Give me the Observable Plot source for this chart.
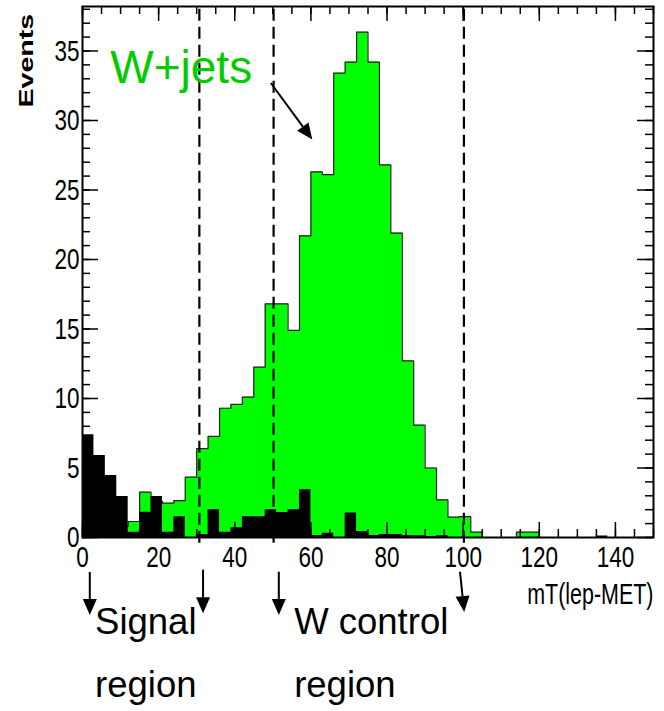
<!DOCTYPE html>
<html><head><meta charset="utf-8">
<script src="https://cdn.jsdelivr.net/npm/d3@7"></script>
<script src="https://cdn.jsdelivr.net/npm/@observablehq/plot@0.6"></script>
<style>body{margin:0;background:#fff}</style>
</head><body><div id="chart"></div>
<script>
// histogram bin edges (mT, GeV), 3 GeV bins
const binEdges = [0,3,6,9,12,15,18,21,24,27,30,33,36,39,42,45,48,51,54,57,60,63,66,69,72,75,78,81,84,87,90,93,96,99,102,105,108,111,114,117,120,123,126,129,132,135,138,141,144,147,150];
// W+jets (green)
const wjets = [0.5,0.6,0.4,0.8,1.15,3.26,2.6,2.47,2.66,4.34,6.4,7.27,9.3,9.57,10.1,12.25,16.8,16.8,14.9,21.7,26.3,26.1,33.4,34.2,36.35,34.2,26.8,21.9,12.7,8.08,5.0,2.7,1.46,1.5,0.38,0,0,0,0.38,0.38,0,0,0,0,0,0,0,0,0,0];
// other sample (black)
const other = [7.4,5.9,4.46,2.95,0.38,1.82,2.95,0.38,1.5,0,0.22,2.0,0.38,0.7,1.5,1.5,2.0,1.8,2.0,3.43,0.14,0.3,0,1.77,0.43,0.14,0.22,0.22,0.12,0.12,0.07,0.12,0,0,0,0,0,0,0,0,0,0,0,0,0,0.1,0,0,0,0];

const xLabelTicks = [0,20,40,60,80,100,120,140];
const xMinorTicks = [0,5,10,15,20,25,30,35,40,45,50,55,60,65,70,75,80,85,90,95,100,105,110,115,120,125,130,135,140,145,150];
const yMajorTicks = [0,5,10,15,20,25,30,35];
const yMinorTicks = [0,1,2,3,4,5,6,7,8,9,10,11,12,13,14,15,16,17,18,19,20,21,22,23,24,25,26,27,28,29,30,31,32,33,34,35,36,37,38];

const cutLines = [30.7, 50.2, 100.2];
const cutTop = 38.0, cutBottom = -0.65;

const xTitle = "mT(lep-MET)";
const yTitle = "Events";
const sampleLabel = "W+jets";
const sampleLabelPos = {x: 7.3, y: 32.7};

const regionText = ["Signal", "region", "W control", "region"];
const regionX = [3.3, 3.3, 55.6, 55.6];
const regionY = [-6.93, -11.5, -6.93, -11.5];

const arrows = [
  {x1: 49.6, y1: 32.66, x2: 60.5, y2: 28.6},
  {x1: 2.05, y1: -2.52, x2: 2.05, y2: -5.61},
  {x1: 31.8, y1: -2.35, x2: 31.8, y2: -5.49},
  {x1: 51.7, y1: -2.5, x2: 51.7, y2: -5.61},
  {x1: 99.3, y1: -2.5, x2: 100.4, y2: -5.4}
];

const SANS = "'Liberation Sans',Arial,Helvetica,sans-serif";

const wStep = binEdges.map((e, i) => ({x: e, y: wjets[Math.min(i, wjets.length - 1)]}));
const oStep = binEdges.map((e, i) => ({x: e, y: other[Math.min(i, other.length - 1)]}));

function arrowMark(data) {
  return (index, scales) => {
    const g = d3.create("svg:g");
    for (const a of data) {
      const x1 = scales.x(a.x1), y1 = scales.y(a.y1), x2 = scales.x(a.x2), y2 = scales.y(a.y2);
      const ang = Math.atan2(y2 - y1, x2 - x1);
      const hl = 16, hw = 7;
      const bx = x2 - hl * Math.cos(ang), by = y2 - hl * Math.sin(ang);
      g.append("line").attr("x1", x1).attr("y1", y1).attr("x2", bx).attr("y2", by)
        .attr("stroke", "black").attr("stroke-width", 2);
      g.append("path")
        .attr("d", `M${x2},${y2}L${bx + hw * Math.sin(ang)},${by - hw * Math.cos(ang)}L${bx - hw * Math.sin(ang)},${by + hw * Math.cos(ang)}Z`)
        .attr("fill", "black");
    }
    return g.node();
  };
}

const H = 711, MT = 6, MB = 174, ML = 82, MR = 11, W = 664;
const plotH = H - MT - MB, plotW = W - ML - MR;

const chart = Plot.plot({
  width: W, height: H,
  marginLeft: ML, marginRight: MR, marginTop: MT, marginBottom: MB,
  x: {domain: [0, 150]},
  y: {domain: [0, 38.2]},
  style: {fontFamily: SANS, fontSize: "30px", background: "white", overflow: "visible", color: "black"},
  marks: [
    Plot.areaY(wStep, {x: "x", y: "y", curve: "step-after", fill: "#00ff00"}),
    Plot.lineY(wStep, {x: "x", y: "y", curve: "step-after", stroke: "#222", strokeWidth: 1.2}),
    Plot.areaY(oStep, {x: "x", y: "y", curve: "step-after", fill: "black"}),
    Plot.ruleX(cutLines, {x: d => d, y1: cutTop, y2: cutBottom, stroke: "black", strokeWidth: 2.2, strokeDasharray: "12,6"}),
    // inward ticks: bottom & top
    Plot.tickX(xMinorTicks, {x: d => d, insetTop: plotH - 8, stroke: "black", strokeWidth: 1.5}),
    Plot.tickX(xLabelTicks, {x: d => d, insetTop: plotH - 15, stroke: "black", strokeWidth: 1.5}),
    Plot.tickX(xMinorTicks, {x: d => d, insetBottom: plotH - 8, stroke: "black", strokeWidth: 1.5}),
    Plot.tickX(xLabelTicks, {x: d => d, insetBottom: plotH - 15, stroke: "black", strokeWidth: 1.5}),
    // inward ticks: left & right
    Plot.tickY(yMinorTicks, {y: d => d, insetRight: plotW - 8, stroke: "black", strokeWidth: 1.5}),
    Plot.tickY(yMajorTicks, {y: d => d, insetRight: plotW - 16, stroke: "black", strokeWidth: 1.5}),
    Plot.tickY(yMinorTicks, {y: d => d, insetLeft: plotW - 8, stroke: "black", strokeWidth: 1.5}),
    Plot.tickY(yMajorTicks, {y: d => d, insetLeft: plotW - 16, stroke: "black", strokeWidth: 1.5}),
    Plot.frame({stroke: "black", strokeWidth: 2}),
    Plot.axisX({ticks: xLabelTicks, tickSize: 0, tickPadding: 8, label: null, fontSize: 30, tickFormat: d => String(d)}),
    Plot.axisY({ticks: yMajorTicks, tickSize: 0, tickPadding: 3, label: null, fontSize: 30, tickFormat: d => String(d)}),
    Plot.text([xTitle], {x: 150, y: -4.75, text: d => d, textAnchor: "end", lineAnchor: "bottom", fontSize: 29}),
    Plot.text([yTitle], {x: -14.8, y: 34.3, text: d => d, rotate: -90, textAnchor: "middle", fontWeight: "bold", fontSize: 21}),
    Plot.text([sampleLabel], {x: sampleLabelPos.x, y: sampleLabelPos.y, text: d => d, textAnchor: "start", lineAnchor: "bottom", fontSize: 46, fill: "#00cc00"}),
    Plot.text(regionText, {x: (d, i) => regionX[i], y: (d, i) => regionY[i], text: d => d, textAnchor: "start", lineAnchor: "bottom", fontSize: 36.5}),
    arrowMark(arrows)
  ]
});

// The ROOT picture is stretched vertically: squeeze/stretch its axis texts along the text direction.
function stretchNode(t, k) {
  const tr = t.getAttribute("transform");
  if (tr) t.setAttribute("transform", tr + ` scale(${k},1)`);
  else {
    const x = +t.getAttribute("x") || 0, y = +t.getAttribute("y") || 0;
    t.removeAttribute("x"); t.removeAttribute("y");
    t.setAttribute("transform", `translate(${x},${y}) scale(${k},1)`);
  }
}
chart.querySelectorAll('g[aria-label="x-axis tick label"] text').forEach(t => stretchNode(t, 0.75));
chart.querySelectorAll('g[aria-label="y-axis tick label"] text').forEach(t => stretchNode(t, 0.75));
chart.querySelectorAll("text").forEach(t => {
  if (t.textContent === xTitle) stretchNode(t, 0.74);
  else if (t.textContent === yTitle) stretchNode(t, 1.36);
});

document.getElementById("chart").append(chart);
</script>
</body></html>
